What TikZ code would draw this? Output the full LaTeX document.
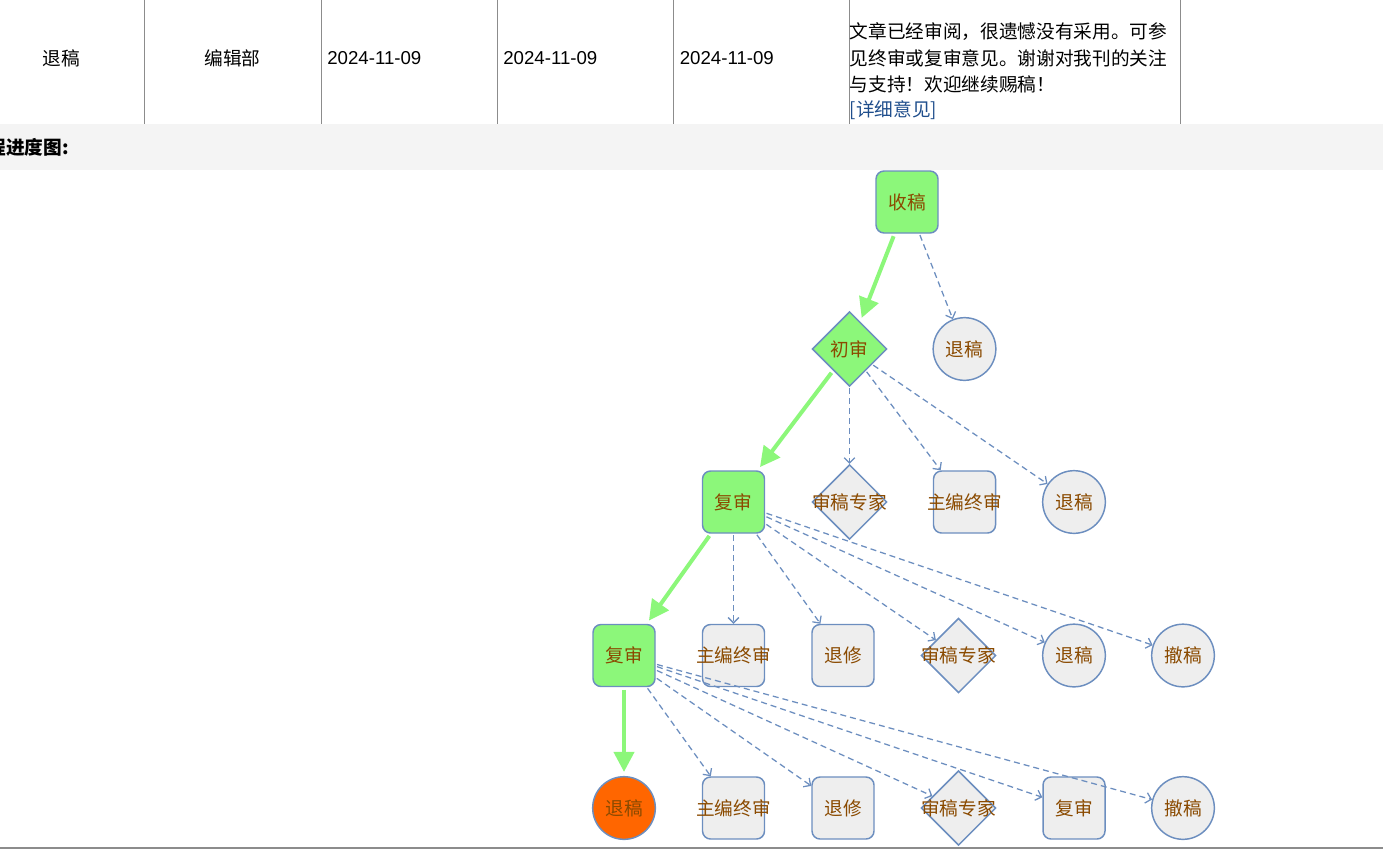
\documentclass[tikz,border=0pt]{standalone}
\usepackage{fontspec}
\setmainfont{Liberation Sans}
\newfontfamily\cjk{Noto Sans CJK SC}
\usetikzlibrary{shapes.geometric,arrows.meta}
\definecolor{flowblue}{HTML}{6C8EBF}
\definecolor{flowgreen}{HTML}{8CF77A}
\definecolor{flowgrey}{HTML}{EEEEEE}
\definecolor{flowtext}{HTML}{8A4A00}
\definecolor{floworange}{HTML}{FF6600}
\definecolor{bandgrey}{HTML}{F4F4F4}
\definecolor{rulegrey}{HTML}{8C8C8C}
\definecolor{linkblue}{HTML}{1F4E8C}
\def\flowtxt#1{\makebox[0pt]{#1}}
\tikzset{
  flownode/.style={draw=flowblue, line width=1.1pt, fill=flowgrey, text=flowtext, font=\cjk\fontsize{14pt}{16pt}\selectfont, inner sep=0pt},
  rbox/.style={flownode, rectangle, rounded corners=6pt, minimum width=46.5pt, minimum height=46.5pt},
  rcirc/.style={flownode, circle, minimum size=47pt},
  rdiam/.style={flownode, diamond, minimum width=56pt, minimum height=56pt},
  done/.style={fill=flowgreen},
  pass/.style={draw=flowgreen, line width=3pt, -{Triangle[length=15pt,width=15pt]}, shorten <=2pt, shorten >=3pt},
  maybe/.style={draw=flowblue, line width=0.95pt, dash pattern=on 4.5pt off 3pt, -{Straight Barb[length=4pt,width=8pt]}, shorten <=1pt},
  cell/.style={font=\cjk\fontsize{14pt}{16pt}\selectfont, inner sep=0pt},
  datecell/.style={font=\fontsize{14pt}{16pt}\selectfont, inner sep=0pt, anchor=west}
}
\begin{document}
\begin{tikzpicture}[x=0.75pt, y=-0.75pt]
			%%%%% START %%%%%
			\useasboundingbox (0,0) rectangle (1383,849);
			\clip (0,0) rectangle (1383,849);
			
			% table row
			\foreach \x in {144,321,497,673,849,1180}
				\draw[rulegrey, line width=0.75pt] (\x,0) -- (\x,124);
			\node[cell] (t1) at (61,58) {退稿};
			\node[cell] (t2) at (232.5,58) {编辑部};
			\node[datecell] (t3) at (327,58) {2024-11-09};
			\node[datecell] (t4) at (503,58) {2024-11-09};
			\node[datecell] (t5) at (679.5,58) {2024-11-09};
			\node[cell, anchor=west] (m1) at (849.5,32) {文章已经审阅，很遗憾没有采用。可参};
			\node[cell, anchor=west] (m2) at (849.5,58) {见终审或复审意见。谢谢对我刊的关注};
			\node[cell, anchor=west] (m3) at (849.5,84) {与支持！欢迎继续赐稿！};
			\node[cell, anchor=west, text=linkblue] (m4) at (849.5,110) {[详细意见]};
			
			\fill[bandgrey] (0,124) rectangle (1383,170);
			\node[cell, anchor=east, font=\cjk\bfseries\fontsize{14pt}{16pt}\selectfont] (hd) at (69,147) {程进度图:};
			
			% flow nodes
			\node[rbox, done] (ns) at (907,202) {\flowtxt{收稿}};
			
			\node[rdiam, done] (nc) at (849.5,349) {\flowtxt{初审}};
			\node[rcirc] (nt2) at (964.5,349) {\flowtxt{退稿}};
			
			\node[rbox, done] (nf3) at (733.5,502) {\flowtxt{复审}};
			\node[rdiam] (ne3) at (849.5,502) {\flowtxt{审稿专家}};
			\node[rbox] (nz3) at (964.5,502) {\flowtxt{主编终审}};
			\node[rcirc] (nt3) at (1074,502) {\flowtxt{退稿}};
			
			\node[rbox, done] (nf4) at (624,655.5) {\flowtxt{复审}};
			\node[rbox] (nz4) at (733.5,655.5) {\flowtxt{主编终审}};
			\node[rbox] (nx4) at (843,655.5) {\flowtxt{退修}};
			\node[rdiam] (ne4) at (958.5,655.5) {\flowtxt{审稿专家}};
			\node[rcirc] (nt4) at (1074,655.5) {\flowtxt{退稿}};
			\node[rcirc] (nw4) at (1183,655.5) {\flowtxt{撤稿}};
			
			\node[rcirc, fill=floworange] (nt5) at (624,808) {\flowtxt{退稿}};
			\node[rbox] (nz5) at (733.5,808) {\flowtxt{主编终审}};
			\node[rbox] (nx5) at (843,808) {\flowtxt{退修}};
			\node[rdiam] (ne5) at (958.5,808) {\flowtxt{审稿专家}};
			\node[rbox] (nf5) at (1074,808) {\flowtxt{复审}};
			\node[rcirc] (nw5) at (1183,808) {\flowtxt{撤稿}};
			
			% path taken
			\draw[pass] (ns) -- (nc);
			\draw[pass] (nc) -- (nf3);
			\draw[pass] (nf3) -- (nf4);
			\draw[pass] (nf4) -- (nt5);
			
			% other choices
			\draw[maybe] (ns) -- (nt2);
			\foreach \n in {ne3,nz3,nt3}
				\draw[maybe] (nc) -- (\n);
			\foreach \n in {nz4,nx4,ne4,nt4,nw4}
				\draw[maybe] (nf3) -- (\n);
			\foreach \n in {nz5,nx5,ne5,nf5,nw5}
				\draw[maybe] (nf4) -- (\n);
			
			\draw[rulegrey, line width=1.5pt] (0,847.5) -- (1383,847.5);
			%%%%% END %%%%%
\end{tikzpicture}
\end{document}
